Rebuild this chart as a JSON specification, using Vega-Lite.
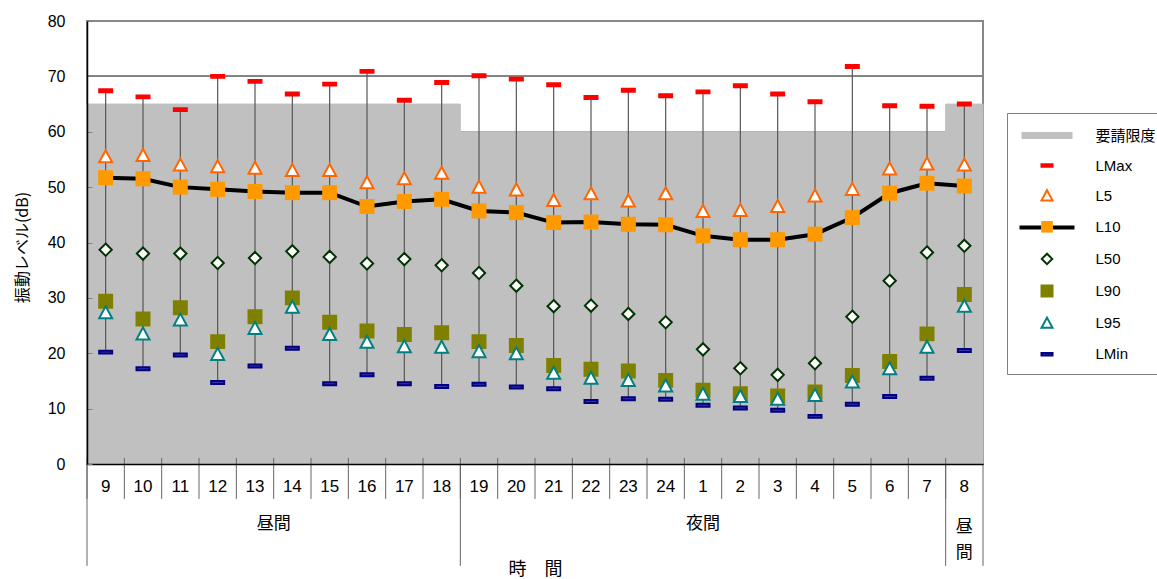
{
  "$schema": "https://vega.github.io/schema/vega-lite/v6.json",
  "width": 896,
  "height": 443,
  "autosize": {"type": "none"},
  "padding": {"left": 87, "top": 21, "right": 174, "bottom": 115},
  "background": "white",
  "config": {
    "view": {"stroke": "#888888", "strokeWidth": 2},
    "font": "Liberation Sans, Noto Sans CJK JP"
  },
  "datasets": {
    "hours": [
      {"hour": "9", "LMax": 67.4, "L5": 55.5, "L10": 51.7, "L50": 38.7, "L90": 29.4, "L95": 27.3, "LMin": 20.2, "limit": 65},
      {"hour": "10", "LMax": 66.3, "L5": 55.7, "L10": 51.5, "L50": 38.0, "L90": 26.2, "L95": 23.5, "LMin": 17.2, "limit": 65},
      {"hour": "11", "LMax": 64.0, "L5": 54.0, "L10": 50.0, "L50": 38.0, "L90": 28.2, "L95": 26.0, "LMin": 19.7, "limit": 65},
      {"hour": "12", "LMax": 70.0, "L5": 53.7, "L10": 49.6, "L50": 36.3, "L90": 22.1, "L95": 19.8, "LMin": 14.7, "limit": 65},
      {"hour": "13", "LMax": 69.1, "L5": 53.4, "L10": 49.2, "L50": 37.2, "L90": 26.6, "L95": 24.5, "LMin": 17.7, "limit": 65},
      {"hour": "14", "LMax": 66.8, "L5": 53.0, "L10": 49.0, "L50": 38.4, "L90": 30.0, "L95": 28.3, "LMin": 20.9, "limit": 65},
      {"hour": "15", "LMax": 68.6, "L5": 53.0, "L10": 49.0, "L50": 37.4, "L90": 25.6, "L95": 23.4, "LMin": 14.5, "limit": 65},
      {"hour": "16", "LMax": 70.9, "L5": 50.8, "L10": 46.5, "L50": 36.2, "L90": 24.0, "L95": 22.0, "LMin": 16.1, "limit": 65},
      {"hour": "17", "LMax": 65.7, "L5": 51.5, "L10": 47.4, "L50": 37.0, "L90": 23.4, "L95": 21.2, "LMin": 14.5, "limit": 65},
      {"hour": "18", "LMax": 68.9, "L5": 52.5, "L10": 47.8, "L50": 35.9, "L90": 23.7, "L95": 21.1, "LMin": 14.0, "limit": 65},
      {"hour": "19", "LMax": 70.1, "L5": 50.0, "L10": 45.7, "L50": 34.5, "L90": 22.1, "L95": 20.3, "LMin": 14.4, "limit": 60},
      {"hour": "20", "LMax": 69.5, "L5": 49.5, "L10": 45.4, "L50": 32.2, "L90": 21.4, "L95": 19.9, "LMin": 13.9, "limit": 60},
      {"hour": "21", "LMax": 68.5, "L5": 47.6, "L10": 43.6, "L50": 28.5, "L90": 17.8, "L95": 16.4, "LMin": 13.6, "limit": 60},
      {"hour": "22", "LMax": 66.2, "L5": 48.8, "L10": 43.7, "L50": 28.6, "L90": 17.1, "L95": 15.5, "LMin": 11.3, "limit": 60},
      {"hour": "23", "LMax": 67.5, "L5": 47.5, "L10": 43.3, "L50": 27.1, "L90": 16.8, "L95": 15.1, "LMin": 11.8, "limit": 60},
      {"hour": "24", "LMax": 66.5, "L5": 48.8, "L10": 43.2, "L50": 25.6, "L90": 15.1, "L95": 14.1, "LMin": 11.7, "limit": 60},
      {"hour": "1", "LMax": 67.2, "L5": 45.6, "L10": 41.2, "L50": 20.7, "L90": 13.3, "L95": 12.6, "LMin": 10.6, "limit": 60},
      {"hour": "2", "LMax": 68.3, "L5": 45.8, "L10": 40.5, "L50": 17.3, "L90": 12.7, "L95": 12.2, "LMin": 10.1, "limit": 60},
      {"hour": "3", "LMax": 66.8, "L5": 46.5, "L10": 40.5, "L50": 16.1, "L90": 12.3, "L95": 11.7, "LMin": 9.7, "limit": 60},
      {"hour": "4", "LMax": 65.4, "L5": 48.4, "L10": 41.5, "L50": 18.2, "L90": 13.0, "L95": 12.4, "LMin": 8.6, "limit": 60},
      {"hour": "5", "LMax": 71.8, "L5": 49.6, "L10": 44.5, "L50": 26.6, "L90": 16.0, "L95": 14.8, "LMin": 10.8, "limit": 60},
      {"hour": "6", "LMax": 64.7, "L5": 53.3, "L10": 48.9, "L50": 33.1, "L90": 18.5, "L95": 17.2, "LMin": 12.2, "limit": 60},
      {"hour": "7", "LMax": 64.6, "L5": 54.2, "L10": 50.7, "L50": 38.2, "L90": 23.5, "L95": 21.1, "LMin": 15.5, "limit": 60},
      {"hour": "8", "LMax": 65.0, "L5": 54.0, "L10": 50.2, "L50": 39.4, "L90": 30.6, "L95": 28.5, "LMin": 20.5, "limit": 65}
    ],
    "periods": [
      {"period": "昼間", "hour": "13"},
      {"period": "夜間", "hour": "1"},
      {"period": "昼\n間", "hour": "8"}
    ]
  },
  "data": {"name": "hours"},
  "layer": [
    {
      "mark": {"type": "rule", "color": "#808080", "strokeWidth": 1},
      "encoding": {"y": {"datum": 70}}
    },
    {
      "mark": {"type": "rule", "color": "#808080", "strokeWidth": 1},
      "encoding": {"y": {"datum": 60}}
    },
    {
      "mark": {"type": "bar", "color": "#C0C0C0", "stroke": "#C0C0C0", "strokeWidth": 1},
      "encoding": {
        "x": {
          "field": "hour", "type": "nominal", "sort": null,
          "scale": {"domain": ["9","10","11","12","13","14","15","16","17","18","19","20","21","22","23","24","1","2","3","4","5","6","7","8"], "paddingInner": 0, "paddingOuter": 0},
          "axis": {
            "title": "時　間", "labels": false, "ticks": false, "grid": false,
            "domainColor": "black", "domainWidth": 1.5,
            "titleFont": "Noto Sans CJK JP", "titleFontSize": 18, "titleFontWeight": "normal", "titleColor": "black",
            "titleY": 96, "titleBaseline": "top", "zindex": 1
          }
        },
        "y": {
          "field": "limit", "type": "quantitative",
          "scale": {"domain": [0, 80], "nice": false},
          "axis": {
            "values": [0, 10, 20, 30, 40, 50, 60, 70, 80],
            "title": "振動レベル(dB)", "grid": false,
            "domainColor": "black", "domainWidth": 1.5,
            "tickSize": -5, "tickColor": "#808080",
            "labelPadding": 27, "labelFontSize": 16, "labelColor": "black", "labelFont": "Liberation Sans",
            "titleFont": "Noto Sans CJK JP", "titleFontSize": 16, "titleFontWeight": "normal", "titleColor": "black",
            "titleX": -65, "titleY": 226, "titleAlign": "center", "titleBaseline": "middle", "titleAngle": -90,
            "zindex": 1
          }
        }
      }
    },
    {
      "mark": {"type": "rule", "color": "#555555", "strokeWidth": 1.2},
      "encoding": {
        "x": {"field": "hour", "type": "nominal", "sort": null},
        "y": {"field": "LMin", "type": "quantitative"},
        "y2": {"field": "LMax"}
      }
    },
    {
      "mark": {"type": "line", "strokeWidth": 4},
      "encoding": {
        "x": {"field": "hour", "type": "nominal", "sort": null},
        "y": {"field": "L10", "type": "quantitative"},
        "color": {
          "datum": "L10", "type": "nominal",
          "scale": {"range": ["black"]},
          "legend": {
            "title": null, "orient": "none", "legendX": 930.5, "legendY": 177,
            "symbolType": "M-1,0H-0.21 M0.21,0H1", "symbolSize": 3025, "symbolStrokeWidth": 4,
            "padding": 0, "labelExpr": "''", "labelOffset": 0
          }
        }
      }
    },
    {
      "mark": {"type": "point", "shape": "square", "filled": true, "color": "#FF9900", "size": 225, "opacity": 1},
      "encoding": {
        "x": {"field": "hour", "type": "nominal", "sort": null},
        "y": {"field": "L10", "type": "quantitative"}
      }
    },
    {
      "transform": [{"fold": ["LMax", "L5", "L50", "L90", "L95", "LMin"], "as": ["series", "value"]}],
      "mark": {"type": "point", "filled": true, "size": 557, "strokeWidth": 2, "opacity": 1},
      "encoding": {
        "x": {"field": "hour", "type": "nominal", "sort": null},
        "y": {"field": "value", "type": "quantitative"},
        "shape": {
          "field": "series", "type": "nominal",
          "scale": {
            "domain": ["要請限度", "LMax", "L5", "L10", "L50", "L90", "L95", "LMin"],
            "range": [
              "M-2.55,-0.35H2.55V0.35H-2.55Z",
              "M-0.55,-0.125H0.55V0.125H-0.55Z",
              "M0,-0.55L0.55,0.47H-0.55Z",
              "M-0.58,-0.58H0.58V0.58H-0.58Z",
              "M0,-0.52L0.52,0L0,0.52L-0.52,0Z",
              "M-0.55,-0.55H0.55V0.55H-0.55Z",
              "M0,-0.55L0.55,0.47H-0.55Z",
              "M-0.55,-0.125H0.55V0.125H-0.55Z"
            ]
          },
          "legend": {
            "title": null, "orient": "none", "legendX": 920, "legendY": 92,
            "symbolSize": 400, "symbolStrokeWidth": 2, "symbolOffset": 17.5,
            "padding": 11.5, "labelOffset": 37.5, "rowPadding": 11.1,
            "labelFont": "Liberation Sans, Noto Sans CJK JP", "labelFontSize": 15, "labelColor": "black",
            "strokeColor": "#808080",
            "encode": {
              "symbols": {
                "fill": {"scale": "fill", "field": "value"},
                "fillOpacity": {"value": 1}
              }
            }
          }
        },
        "fill": {
          "field": "series", "type": "nominal",
          "scale": {
            "domain": ["要請限度", "LMax", "L5", "L10", "L50", "L90", "L95", "LMin"],
            "range": ["#C0C0C0", "#FF0000", "#FFFFFF", "#FF9900", "#FFFFFF", "#808000", "#FFFFFF", "#3535A5"]
          },
          "legend": null
        },
        "stroke": {
          "field": "series", "type": "nominal",
          "scale": {
            "domain": ["要請限度", "LMax", "L5", "L10", "L50", "L90", "L95", "LMin"],
            "range": ["transparent", "#FF0000", "#FF6600", "transparent", "#003300", "#808000", "#008080", "#000080"]
          },
          "legend": {
            "title": null, "orient": "none", "legendX": 920, "legendY": 92,
            "symbolSize": 400, "symbolStrokeWidth": 2, "symbolOffset": 17.5,
            "padding": 11.5, "labelOffset": 37.5, "rowPadding": 11.1,
            "labelFont": "Liberation Sans, Noto Sans CJK JP", "labelFontSize": 15, "labelColor": "black",
            "strokeColor": "#808080",
            "encode": {
              "symbols": {
                "fill": {"scale": "fill", "field": "value"},
                "fillOpacity": {"value": 1}
              }
            }
          }
        }
      }
    },
    {
      "mark": {"type": "rule", "color": "#666666", "strokeWidth": 1},
      "encoding": {
        "x": {"field": "hour", "type": "nominal", "sort": null, "bandPosition": 0},
        "y": {"datum": 1.1},
        "y2": {"datum": -6.3}
      }
    },
    {
      "transform": [{"filter": {"field": "hour", "oneOf": ["9", "19", "8"]}}],
      "mark": {"type": "rule", "color": "#666666", "strokeWidth": 1},
      "encoding": {
        "x": {"field": "hour", "type": "nominal", "sort": null, "bandPosition": 0},
        "y": {"datum": 0},
        "y2": {"datum": -18.4}
      }
    },
    {
      "transform": [{"filter": {"field": "hour", "equal": "8"}}],
      "mark": {"type": "rule", "color": "#666666", "strokeWidth": 1},
      "encoding": {
        "x": {"field": "hour", "type": "nominal", "sort": null, "bandPosition": 1},
        "y": {"datum": 0},
        "y2": {"datum": -18.4}
      }
    },
    {
      "mark": {"type": "text", "fontSize": 17, "font": "Liberation Sans", "color": "black", "baseline": "middle", "align": "center"},
      "encoding": {
        "x": {"field": "hour", "type": "nominal", "sort": null},
        "y": {"datum": -4.15},
        "text": {"field": "hour", "type": "nominal"}
      }
    },
    {
      "data": {"name": "periods"},
      "transform": [{"filter": {"field": "period", "equal": "昼間"}}],
      "mark": {"type": "text", "fontSize": 17, "font": "Noto Sans CJK JP", "color": "black", "baseline": "middle", "align": "center"},
      "encoding": {
        "x": {"field": "hour", "type": "nominal", "sort": null, "bandPosition": 1},
        "y": {"datum": -10.8},
        "text": {"field": "period", "type": "nominal"}
      }
    },
    {
      "data": {"name": "periods"},
      "transform": [{"filter": {"field": "period", "equal": "夜間"}}],
      "mark": {"type": "text", "fontSize": 17, "font": "Noto Sans CJK JP", "color": "black", "baseline": "middle", "align": "center"},
      "encoding": {
        "x": {"field": "hour", "type": "nominal", "sort": null},
        "y": {"datum": -10.8},
        "text": {"field": "period", "type": "nominal"}
      }
    },
    {
      "data": {"name": "periods"},
      "transform": [{"filter": {"field": "hour", "equal": "8"}}],
      "mark": {"type": "text", "fontSize": 17, "font": "Noto Sans CJK JP", "color": "black", "baseline": "middle", "align": "center", "lineBreak": "\n", "lineHeight": 26},
      "encoding": {
        "x": {"field": "hour", "type": "nominal", "sort": null},
        "y": {"datum": -11.4},
        "text": {"field": "period", "type": "nominal"}
      }
    }
  ]
}
